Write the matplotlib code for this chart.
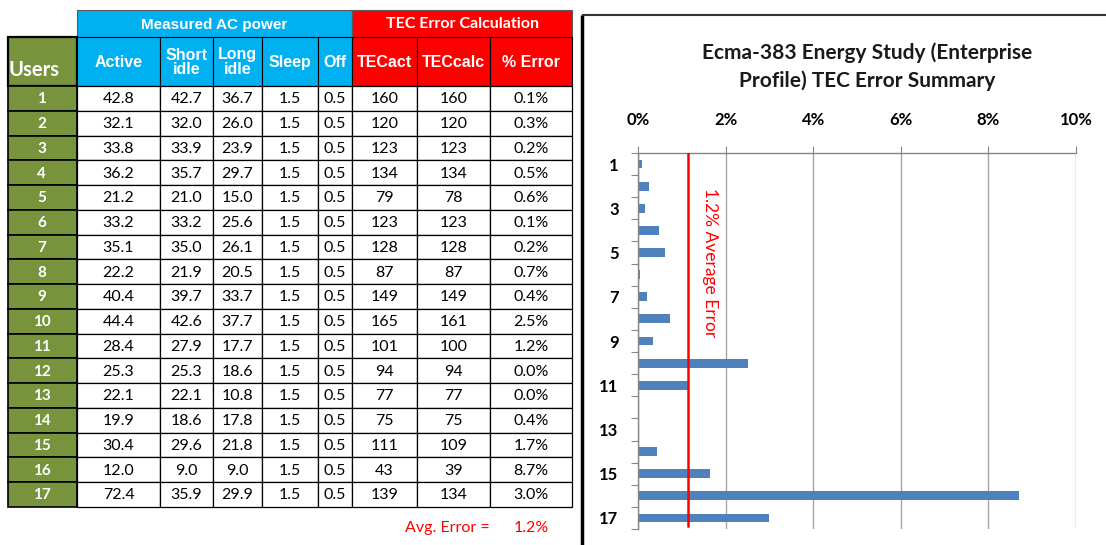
import matplotlib
matplotlib.use("Agg")
import numpy as np
import matplotlib.pyplot as plt
from matplotlib.patches import Rectangle
from matplotlib.ticker import FixedLocator, FuncFormatter, NullFormatter

plt.rcParams['font.family'] = ['Lato', 'DejaVu Sans']

# ---------------- data ----------------
users = [1, 2, 3, 4, 5, 6, 7, 8, 9, 10, 11, 12, 13, 14, 15, 16, 17]
active = [42.8, 32.1, 33.8, 36.2, 21.2, 33.2, 35.1, 22.2, 40.4, 44.4, 28.4, 25.3, 22.1, 19.9, 30.4, 12.0, 72.4]
short_idle = [42.7, 32.0, 33.9, 35.7, 21.0, 33.2, 35.0, 21.9, 39.7, 42.6, 27.9, 25.3, 22.1, 18.6, 29.6, 9.0, 35.9]
long_idle = [36.7, 26.0, 23.9, 29.7, 15.0, 25.6, 26.1, 20.5, 33.7, 37.7, 17.7, 18.6, 10.8, 17.8, 21.8, 9.0, 29.9]
sleep = [1.5, 1.5, 1.5, 1.5, 1.5, 1.5, 1.5, 1.5, 1.5, 1.5, 1.5, 1.5, 1.5, 1.5, 1.5, 1.5, 1.5]
off = [0.5, 0.5, 0.5, 0.5, 0.5, 0.5, 0.5, 0.5, 0.5, 0.5, 0.5, 0.5, 0.5, 0.5, 0.5, 0.5, 0.5]
tec_act = [160, 120, 123, 134, 79, 123, 128, 87, 149, 165, 101, 94, 77, 75, 111, 43, 139]
tec_calc = [160, 120, 123, 134, 78, 123, 128, 87, 149, 161, 100, 94, 77, 75, 109, 39, 134]
pct_error = [0.1, 0.3, 0.2, 0.5, 0.6, 0.1, 0.2, 0.7, 0.4, 2.5, 1.2, 0.0, 0.0, 0.4, 1.7, 8.7, 3.0]
# bar lengths as drawn in the chart (% error)
bar_error = [0.1, 0.25, 0.15, 0.48, 0.62, 0.05, 0.2, 0.72, 0.35, 2.5, 1.15, 0.0, 0.0, 0.43, 1.65, 8.7, 3.0]
avg_error = 1.15
avg_error_label = "1.2%"

group_headers = ["Measured AC power", "TEC Error Calculation"]
col_headers = ["Users", "Active", "Short\nidle", "Long\nidle", "Sleep", "Off", "TECact", "TECcalc", "% Error"]
x_ticks = [0, 2, 4, 6, 8, 10]
y_label_users = [1, 3, 5, 7, 9, 11, 13, 15, 17]
title = "Ecma-383 Energy Study (Enterprise\nProfile) TEC Error Summary"

# ---------------- layout ----------------
W, H = 1106, 545
GREEN = '#77933C'
BLUE = '#00B0F0'
RED = '#FF0000'
BARC = '#4F81BD'
GRID = '#A6A6A6'
HDR_FONT = ['Liberation Sans', 'DejaVu Sans']

fig = plt.figure(figsize=(W / 100, H / 100), dpi=100)
bg = fig.add_axes([0, 0, 1, 1])
bg.set_xlim(0, W)
bg.set_ylim(H, 0)
bg.axis('off')

col_x = [8, 77, 160, 213, 262, 318, 352, 417, 490, 572]
y_h1, y_h2, y_d0 = 10, 37, 86
row_h = 24.75

# header row 1
bg.add_patch(Rectangle((col_x[1], y_h1), col_x[6] - col_x[1], y_h2 - y_h1,
                       fc=BLUE, ec='#5a5a5a', lw=0.8))
bg.add_patch(Rectangle((col_x[6], y_h1), col_x[9] - col_x[6], y_h2 - y_h1,
                       fc=RED, ec='#5a5a5a', lw=0.8))
bg.text((col_x[1] + col_x[6]) / 2, (y_h1 + y_h2) / 2 + 1, group_headers[0],
        color='white', fontsize=11, fontweight='bold', ha='center', va='center',
        family=HDR_FONT)
bg.text((col_x[6] + col_x[9]) / 2, (y_h1 + y_h2) / 2 + 1, group_headers[1],
        color='white', fontsize=11.5, fontweight='bold', ha='center', va='center')

# header row 2
for j in range(9):
    x0, x1 = col_x[j], col_x[j + 1]
    if j == 0:
        fc = GREEN
    elif j <= 5:
        fc = BLUE
    else:
        fc = RED
    bg.add_patch(Rectangle((x0, y_h2), x1 - x0, y_d0 - y_h2, fc=fc,
                           ec='black', lw=1.6 if j == 0 else 0.8))
    if j == 0:
        bg.text(x0 + 1, (y_h2 + y_d0) / 2 + 8, col_headers[j], color='white',
                fontsize=14.5, fontweight='bold', ha='left', va='center')
    else:
        bg.text((x0 + x1) / 2, (y_h2 + y_d0) / 2 + 1, col_headers[j], color='white',
                fontsize=11.5, fontweight='bold', ha='center', va='center',
                linespacing=1.0, family=HDR_FONT)

# data rows
for i in range(len(users)):
    y0 = y_d0 + i * row_h
    vals = [str(users[i]), f"{active[i]:.1f}", f"{short_idle[i]:.1f}", f"{long_idle[i]:.1f}",
            f"{sleep[i]:.1f}", f"{off[i]:.1f}", f"{tec_act[i]}", f"{tec_calc[i]}",
            f"{pct_error[i]:.1f}%"]
    for j in range(9):
        x0, x1 = col_x[j], col_x[j + 1]
        if j == 0:
            bg.add_patch(Rectangle((x0, y0), x1 - x0, row_h, fc=GREEN, ec='black', lw=1.2))
            bg.text((x0 + x1) / 2 - 1, y0 + row_h / 2 + 1, vals[j], color='white',
                    fontsize=11, fontweight='bold', ha='center', va='center')
        else:
            bg.add_patch(Rectangle((x0, y0), x1 - x0, row_h, fc='white', ec='black', lw=0.9))
            bg.text((x0 + x1) / 2, y0 + row_h / 2 + 1, vals[j], color='black',
                    fontsize=11.5, ha='center', va='center')

y_end = y_d0 + len(users) * row_h
bg.text(col_x[8], y_end + 21, "Avg. Error =", color=RED, fontsize=11.5, ha='right', va='center')
bg.text((col_x[8] + col_x[9]) / 2, y_end + 21, avg_error_label, color=RED, fontsize=11.5,
        ha='center', va='center')

# chart frame
bg.plot([582, 582], [15, H + 5], color='black', lw=2.5, solid_capstyle='butt')
bg.plot([582, W + 5], [15, 15], color='#333333', lw=1.5, solid_capstyle='butt')

bg.text(867, 67, title, color='#1a1a1a', fontsize=15, fontweight='bold',
        ha='center', va='center', linespacing=1.45)

# ---------------- bar chart ----------------
ax = fig.add_axes([638 / W, 1 - 529 / H, 438 / W, 376 / H])
ax.barh(users, bar_error, height=0.4, color=BARC, zorder=2)
ax.set_xlim(0, 10)
ax.set_ylim(17.5, 0.5)

ax.xaxis.tick_top()
ax.xaxis.set_major_locator(FixedLocator(x_ticks))
ax.xaxis.set_major_formatter(FuncFormatter(lambda v, p: f"{v:.0f}%"))
ax.tick_params(axis='x', which='major', direction='out', length=5, color='#868686',
               pad=13, labelsize=12)
for lab in ax.get_xticklabels():
    lab.set_fontweight('bold')
ax.grid(axis='x', color=GRID, lw=1)
ax.set_axisbelow(True)

ax.yaxis.set_major_locator(FixedLocator(np.arange(0.5, 18, 1)))
ax.yaxis.set_major_formatter(NullFormatter())
ax.yaxis.set_minor_locator(FixedLocator(y_label_users))
ax.yaxis.set_minor_formatter(FuncFormatter(lambda v, p: f"{v:.0f}"))
ax.tick_params(axis='y', which='major', direction='out', length=5, color='#868686')
ax.tick_params(axis='y', which='minor', length=0, pad=14, labelsize=12)
for lab in ax.yaxis.get_minorticklabels():
    lab.set_fontweight('bold')

for s in ['right', 'bottom']:
    ax.spines[s].set_visible(False)
for s in ['top', 'left']:
    ax.spines[s].set_color('#868686')
    ax.spines[s].set_linewidth(1)

ax.axvline(avg_error, ymin=0.008, ymax=1, color=RED, lw=1.8, zorder=3)
ax.text(avg_error + 0.5, 5.45, "1.2% Average Error", color=RED, fontsize=12.5,
        rotation=270, ha='center', va='center')

fig.savefig("out.png", dpi=100)
